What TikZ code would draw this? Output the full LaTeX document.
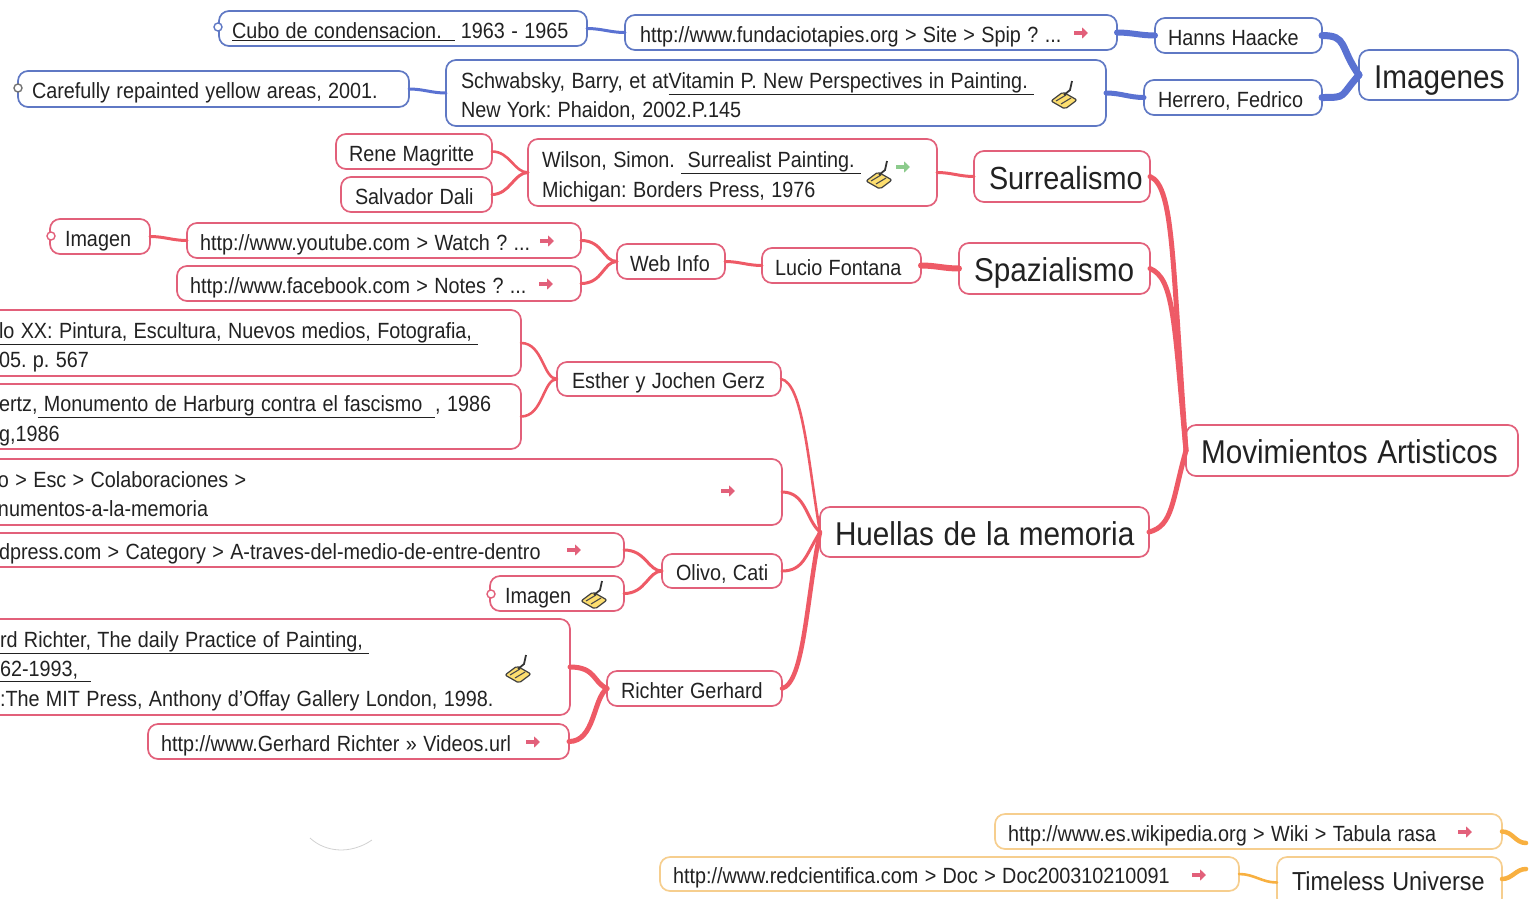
\documentclass[tikz,border=0pt]{standalone}
\usepackage{array}
\usepackage{fontspec}
\setmainfont[FakeStretch=0.9]{Liberation Sans}
\XeTeXinterwordspaceshaping=0
\usetikzlibrary{arrows.meta}
\definecolor{bluel}{HTML}{5F78C4}
\definecolor{redl}{HTML}{E2607A}
\definecolor{oranl}{HTML}{F6CE8E}
\definecolor{blueb}{HTML}{5A72D2}
\definecolor{redb}{HTML}{EE5A66}
\definecolor{oranb}{HTML}{F8B040}
\definecolor{txt}{HTML}{222222}
\newcommand\tightsp{\spaceskip=0.29em\relax\xspaceskip=0.29em\relax}
\tikzset{
  boxbase/.style={rounded corners=10pt,line width=1.7pt,fill=white,inner sep=0pt,outer sep=0pt,text=txt,anchor=center},
  bb/.style={boxbase,draw=bluel},
  rb/.style={boxbase,draw=redl},
  ob/.style={boxbase,draw=oranl},
  small/.style={font=\fontsize{22}{29.5}\selectfont\def\tdrop{4pt}},
  big/.style={font=\fontsize{33}{36}\selectfont\def\tdrop{6pt}},
  bigb/.style={font=\fontsize{32}{36}\selectfont\def\tdrop{6pt}},
  mid/.style={font=\fontsize{26}{30}\selectfont\def\tdrop{2pt}},
  blk/.style={draw=blueb,line cap=round},
  rlk/.style={draw=redb,line cap=round},
  olk/.style={draw=oranb,line cap=round},
  dot/.style={circle,draw,fill=white,line width=1.4pt,minimum size=8pt,inner sep=0pt},
  pics/linkarrow/.style={code={\draw[#1,line width=3.4pt,-{Triangle[length=6pt,width=11pt]}] (-7,0) -- (7,0);}},
  pics/brush/.style={code={
    \draw[fill=yellow!60!orange!55!white,draw=black!75,line width=1.2pt,rounded corners=2pt] (-14,3) -- (-2,-6) -- (12,2) -- (0,11) -- cycle;
    \draw[black!70,line width=1.1pt] (-9,3) -- (1,-3) (-4,6) -- (6,0);
    \draw[black!80,line width=1.8pt] (-1,-3) -- (5,-8) -- (7,-17);
  }}
}
\newcommand\bx[8]{%
  \pgfmathsetmacro\bW{#4-#2}\pgfmathsetmacro\bH{#5-#3}%
  \pgfmathsetmacro\bX{(#4+#2)/2}\pgfmathsetmacro\bY{(#5+#3)/2}%
  \node[#6,minimum height=\bH pt,text width=\bW pt] (#1) at (\bX,\bY)
   {\hspace*{#7pt}\raisebox{-\tdrop}[\height][\depth]{\begin{tabular}{@{}>{\tightsp}l@{}}#8\end{tabular}}};}
\begin{document}
\begin{tikzpicture}[x=1pt,y=-1pt]
\useasboundingbox (0,0) rectangle (1536,898);
% faint scan mark
\draw[black!18,line width=0.8pt] (310,838) .. controls (325,852) and (350,855) .. (372,840);
% nodes: blue branch
\bx{cubo}{219}{11}{587}{46}{bb,small}{13}{\underline{Cubo de condensacion.\ \ } 1963 - 1965}
\bx{fund}{625}{15}{1117}{50}{bb,small}{15}{http://www.fundaciotapies.org > Site > Spip ? ...}
\bx{hanns}{1155}{18}{1322}{53}{bb,small}{13}{Hanns Haacke}
\bx{herr}{1144}{80}{1322}{115}{bb,small}{14}{Herrero, Fedrico}
\bx{imgs}{1359}{50}{1518}{100}{bb,big}{15}{Imagenes}
\bx{schw}{446}{60}{1106}{126}{bb,small}{15}{Schwabsky, Barry, et at\underline{Vitamin P. New Perspectives in Painting.\ }\\New York: Phaidon, 2002.P.145}
\bx{care}{18}{71}{409}{107}{bb,small}{14}{Carefully repainted yellow areas, 2001.}
% red branch
\bx{rene}{336}{134}{492}{169}{rb,small}{13}{Rene Magritte}
\bx{dali}{341}{177}{492}{212}{rb,small}{14}{Salvador Dali}
\bx{wils}{528}{139}{937}{206}{rb,small}{14}{Wilson, Simon. \underline{\ Surrealist Painting.\ }\\Michigan: Borders Press, 1976}
\bx{surr}{974}{151}{1150}{202}{rb,bigb}{15}{Surrealismo}
\bx{spaz}{959}{243}{1150}{294}{rb,big}{15}{Spazialismo}
\bx{luci}{762}{248}{921}{283}{rb,small}{13}{Lucio Fontana}
\bx{webi}{617}{244}{725}{279}{rb,small}{13}{Web Info}
\bx{yout}{187}{223}{581}{258}{rb,small}{13}{http://www.youtube.com > Watch ? ...}
\bx{face}{177}{266}{581}{301}{rb,small}{13}{http://www.facebook.com > Notes ? ...}
\bx{imga}{50}{219}{150}{254}{rb,small}{15}{Imagen}
\bx{bxa}{-30}{310}{521}{376}{rb,small}{29}{\underline{lo XX: Pintura, Escultura, Nuevos medios, Fotografia,\ }\\05. p. 567}
\bx{bxb}{-30}{384}{521}{449}{rb,small}{29}{ertz,\underline{\ Monumento de Harburg contra el fascismo\ \ }, 1986\\g,1986}
\bx{esth}{557}{362}{781}{396}{rb,small}{15}{Esther y Jochen Gerz}
\bx{bxc}{-30}{459}{782}{525}{rb,small}{28}{o > Esc > Colaboraciones >\\numentos-a-la-memoria}
\bx{bxd}{-30}{533}{624}{567}{rb,small}{29}{dpress.com > Category > A-traves-del-medio-de-entre-dentro}
\bx{oliv}{662}{554}{782}{588}{rb,small}{14}{Olivo, Cati}
\bx{imgb}{490}{576}{624}{611}{rb,small}{15}{Imagen}
\bx{bxe}{-30}{619}{570}{715}{rb,small}{30}{\underline{rd Richter, The daily Practice of Painting,\ }\\\underline{62-1993,\ \ }\\:The MIT Press, Anthony d'Offay Gallery London, 1998.}
\bx{gurl}{148}{724}{569}{759}{rb,small}{13}{http://www.Gerhard Richter » Videos.url}
\bx{rich}{607}{671}{782}{706}{rb,small}{14}{Richter Gerhard}
\bx{huel}{820}{507}{1149}{557}{rb,big}{15}{Huellas de la memoria}
\bx{movi}{1186}{425}{1518}{476}{rb,big}{15}{Movimientos Artisticos}
% orange branch
\bx{wiki}{995}{814}{1502}{849}{ob,small}{13}{http://www.es.wikipedia.org > Wiki > Tabula rasa}
\bx{redc}{660}{857}{1239}{891}{ob,small}{13}{http://www.redcientifica.com > Doc > Doc200310210091}
\bx{time}{1277}{857}{1502}{908}{ob,mid}{15}{Timeless Universe}
\coordinate (wikiend) at (1526,843);
\coordinate (timeend) at (1526,869);
% collapse markers
\node[dot,draw=bluel] (da) at (218,27) {};
\node[dot,draw=black!55] (db) at (18,88) {};
\node[dot,draw=redl] (dc) at (51,236) {};
\node[dot,draw=redl] (dd) at (491,594) {};
% connectors: blue
\draw[blk,line width=3pt] (cubo.east) to[out=0,in=180] (fund.west);
\draw[blk,line width=6pt] (fund.east) to[out=0,in=180] (hanns.west);
\draw[blk,line width=7pt] (hanns.east) .. controls +(26,0) and +(-20,-28) .. (imgs.west);
\draw[blk,line width=7pt] (herr.east) .. controls +(26,0) and +(-20,22) .. (imgs.west);
\draw[blk,line width=5pt] (schw.east) to[out=0,in=180] (herr.west);
\draw[blk,line width=3pt] (care.east) to[out=0,in=180] (schw.west);
% connectors: red
\draw[rlk,line width=2.6pt] (rene.east) .. controls +(18,0) and +(-14,0) .. (wils.west);
\draw[rlk,line width=3pt] (dali.east) .. controls +(18,0) and +(-14,0) .. (wils.west);
\draw[rlk,line width=3pt] (wils.east) to[out=0,in=180] (surr.west);
\draw[rlk,line width=5pt] (surr.east) .. controls +(24,10) and +(-14,-190) .. (movi.west);
\draw[rlk,line width=5pt] (spaz.east) .. controls +(24,10) and +(-12,-130) .. (movi.west);
\draw[rlk,line width=5pt] (huel.east) .. controls +(24,-6) and +(-14,50) .. (movi.west);
\draw[rlk,line width=6pt] (luci.east) to[out=0,in=180] (spaz.west);
\draw[rlk,line width=3pt] (webi.east) to[out=0,in=180] (luci.west);
\draw[rlk,line width=3pt] (yout.east) .. controls +(22,0) and +(-14,0) .. (webi.west);
\draw[rlk,line width=3pt] (face.east) .. controls +(22,0) and +(-14,0) .. (webi.west);
\draw[rlk,line width=3pt] (imga.east) to[out=0,in=180] (yout.west);
\draw[rlk,line width=2.6pt] (bxa.east) .. controls +(22,0) and +(-14,0) .. (esth.west);
\draw[rlk,line width=2.6pt] (bxb.east) .. controls +(22,0) and +(-14,0) .. (esth.west);
\draw[rlk,line width=2.6pt] (esth.east) .. controls +(22,4) and +(-12,-70) .. (huel.west);
\draw[rlk,line width=3pt] (bxc.east) .. controls +(24,0) and +(-14,-12) .. (huel.west);
\draw[rlk,line width=3pt] (oliv.east) .. controls +(22,0) and +(-14,22) .. (huel.west);
\draw[rlk,line width=4.5pt] (rich.east) .. controls +(22,-6) and +(-14,70) .. (huel.west);
\draw[rlk,line width=3pt] (bxd.east) .. controls +(22,0) and +(-14,0) .. (oliv.west);
\draw[rlk,line width=3pt] (imgb.east) .. controls +(22,0) and +(-14,0) .. (oliv.west);
\draw[rlk,line width=5pt] (bxe.east) .. controls +(26,0) and +(-14,-6) .. (rich.west);
\draw[rlk,line width=5pt] (gurl.east) .. controls +(26,0) and +(-14,10) .. (rich.west);
% connectors: orange
\draw[olk,line width=2.6pt] (redc.east) to[out=0,in=180] (time.west);
\draw[olk,line width=4.5pt] (wiki.east) to[out=0,in=180] (wikiend);
\draw[olk,line width=4.5pt] (time.east|-0,879) to[out=0,in=180] (timeend);
% link arrows
\path (1081,33) pic {linkarrow=redl} (547,241) pic {linkarrow=redl} (546,284) pic {linkarrow=redl}
 (1199,875) pic {linkarrow=redl} (1465,832) pic {linkarrow=redl} (533,742) pic {linkarrow=redl}
 (728,491) pic {linkarrow=redl} (574,550) pic {linkarrow=redl} (903,167) pic {linkarrow=green!55!black!45!white};
% note icons
\path (1065,98) pic {brush} (880,178) pic {brush} (595,598) pic {brush} (519,672) pic {brush};
\end{tikzpicture}
\end{document}
